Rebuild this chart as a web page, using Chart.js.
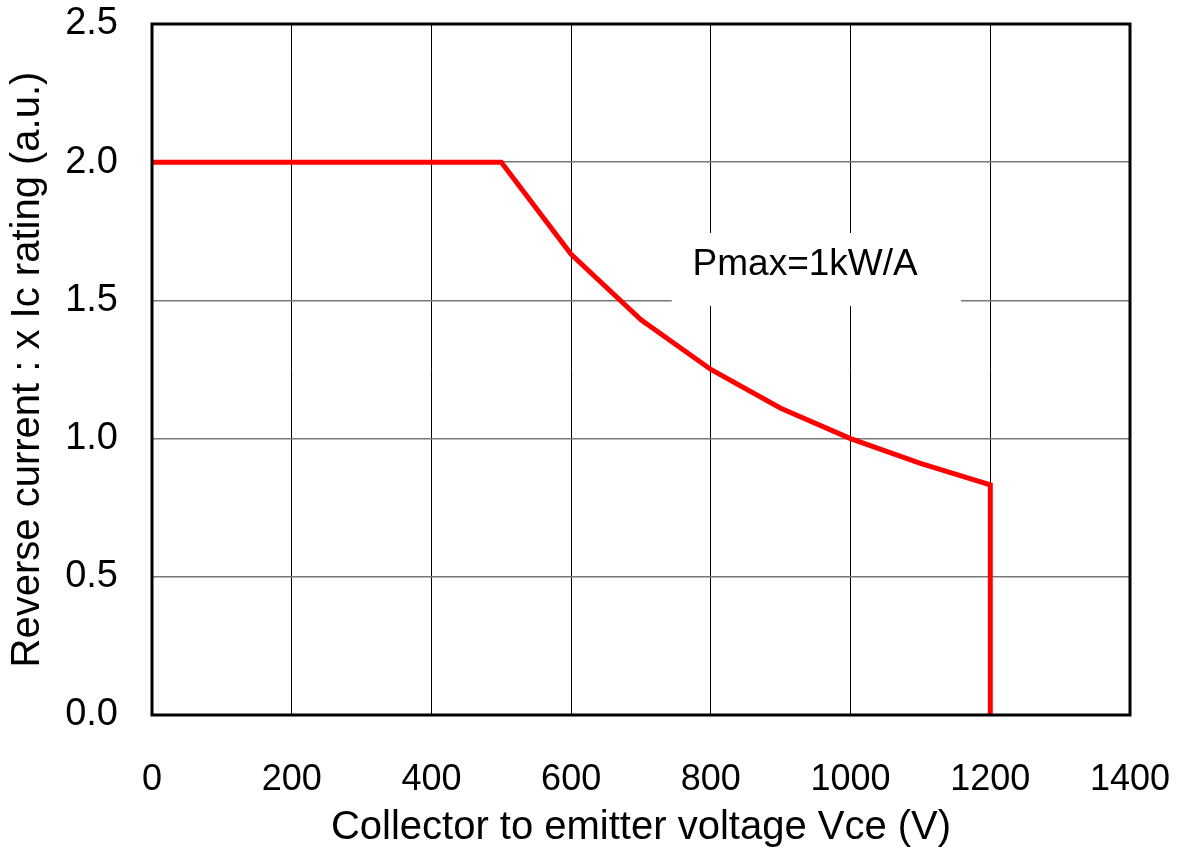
<!DOCTYPE html>
<html>
<head>
<meta charset="utf-8">
<script src="https://cdn.jsdelivr.net/npm/chart.js@4.4.1/dist/chart.umd.min.js"></script>
<style>
  html, body { margin: 0; padding: 0; background: #fff; }
  canvas { display: block; }
</style>
</head>
<body>
<canvas id="socChart" width="1179" height="848"></canvas>
<script>
// Datos (RBSOA)
var vce = [0, 500, 600, 700, 800, 900, 1000, 1100, 1200, 1200];
var corriente = [2.0, 2.0, 1.667, 1.43, 1.25, 1.11, 1.0, 0.91, 0.833, 0.0];
var xTicks = [0, 200, 400, 600, 800, 1000, 1200, 1400];
var yTicks = [0.0, 0.5, 1.0, 1.5, 2.0, 2.5];

var etiqueta = { text: 'Pmax=1kW/A', x: 935, y: 1.628, x0: 744, x1: 1158, y0: 1.48, y1: 1.744 };

var fuente = "'Liberation Sans', Arial, sans-serif";

// Sin relleno extra de las escalas: el area de dibujo la fija layout.padding
function sinRelleno(s) {
    s.paddingTop = 0; s.paddingBottom = 0; s.paddingLeft = 0; s.paddingRight = 0;
}

// Caja de texto con fondo blanco y marco del area de dibujo
var extras = {
    id: 'extras',
    beforeDatasetsDraw: function(chart) {
        var c = chart.ctx, x = chart.scales.x, y = chart.scales.y;
        var left = x.getPixelForValue(etiqueta.x0), right = x.getPixelForValue(etiqueta.x1);
        var top = y.getPixelForValue(etiqueta.y1), bottom = y.getPixelForValue(etiqueta.y0);
        c.save();
        c.fillStyle = '#fff';
        c.fillRect(left, top, right - left, bottom - top);
        c.fillStyle = '#000';
        c.font = '37px ' + fuente;
        c.textAlign = 'center';
        c.textBaseline = 'middle';
        c.fillText(etiqueta.text, x.getPixelForValue(etiqueta.x), y.getPixelForValue(etiqueta.y));
        c.restore();
    },
    afterDraw: function(chart) {
        var a = chart.chartArea, c = chart.ctx;
        c.save();
        c.strokeStyle = '#000';
        c.lineWidth = 3;
        c.strokeRect(a.left, a.top, a.right - a.left, a.bottom - a.top);
        c.restore();
    }
};

var ctx = document.getElementById('socChart').getContext('2d');
var socChart = new Chart(ctx, {
    type: 'scatter',
    data: {
        datasets: [{
            data: vce.map(function(v, i) { return { x: v, y: corriente[i] }; }),
            showLine: true,
            borderColor: '#ff0000',
            borderWidth: 5,
            pointRadius: 0,
            tension: 0
        }]
    },
    options: {
        responsive: false,
        animation: false,
        devicePixelRatio: 1,
        layout: { padding: { top: 24, right: 49, left: 0, bottom: 0 } },
        plugins: { legend: { display: false }, tooltip: { enabled: false } },
        scales: {
            x: {
                type: 'linear',
                min: 0, max: 1400,
                afterBuildTicks: function(s) { s.ticks = xTicks.map(function(v) { return { value: v }; }); },
                afterFit: function(s) { s.height = 133; sinRelleno(s); },
                grid: { color: '#000', lineWidth: 1, drawTicks: false },
                border: { display: false },
                ticks: {
                    color: '#000',
                    font: { family: fuente, size: 36 },
                    padding: 43,
                    maxRotation: 0,
                    callback: function(v) { return String(v); }
                },
                title: {
                    display: true,
                    text: 'Collector to emitter voltage Vce (V)',
                    color: '#000',
                    font: { family: fuente, size: 40, lineHeight: 1 },
                    padding: { top: 0, bottom: 0 }
                }
            },
            y: {
                min: 0, max: 2.5,
                afterBuildTicks: function(s) { s.ticks = yTicks.map(function(v) { return { value: v }; }); },
                afterFit: function(s) { s.width = 152; sinRelleno(s); },
                grid: { color: '#777', lineWidth: 1.5, drawTicks: false },
                border: { display: false },
                ticks: {
                    color: '#000',
                    font: { family: fuente, size: 38 },
                    padding: 34,
                    callback: function(v) { return v.toFixed(1); }
                },
                title: {
                    display: true,
                    text: 'Reverse current : x Ic rating (a.u.)',
                    color: '#000',
                    font: { family: fuente, size: 40, lineHeight: 1 },
                    padding: { top: 8, bottom: 8 }
                }
            }
        }
    },
    plugins: [extras]
});
</script>
</body>
</html>
